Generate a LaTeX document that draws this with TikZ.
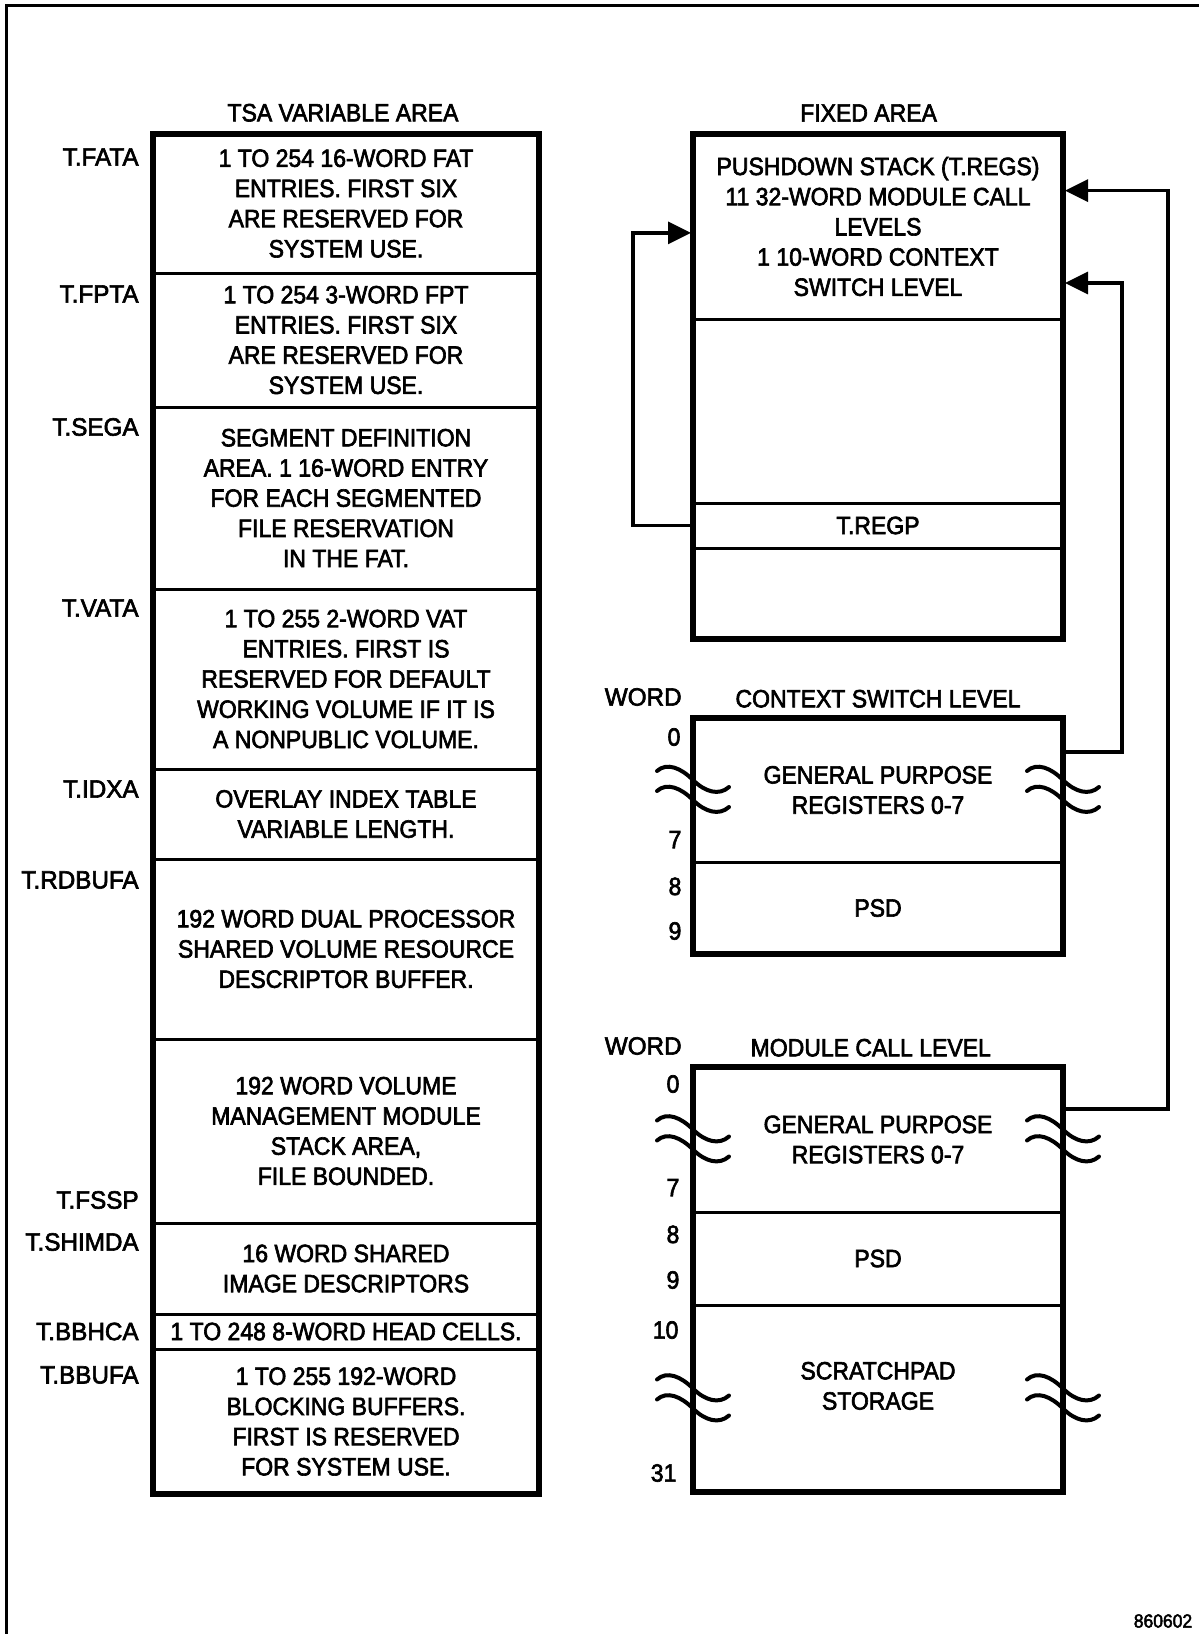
\documentclass[tikz,border=0pt]{standalone}
\usepackage{fontspec}
\newfontfamily\diagfont[FakeStretch=0.92,FakeBold=2.5]{Liberation Sans}
\newfontfamily\tagfont[FakeStretch=0.97,FakeBold=2.5]{Liberation Sans}
\usepackage{tikz}
\usetikzlibrary{arrows.meta,positioning}

\begin{document}
\begin{tikzpicture}[
    x=0.5pt,y=-0.5pt,
    every node/.style={font=\diagfont\fontsize{12.5pt}{15.1pt}\selectfont},
    sect/.style={draw,line width=1.5pt,outer sep=0pt,inner sep=0pt,
      align=center,minimum width=193pt},
    slot/.style={draw,line width=1.5pt,outer sep=0pt,inner sep=0pt,
      align=center,minimum width=185pt},
    rim/.style={line width=2.7pt},
    head/.style={inner sep=0pt},
    tag/.style={anchor=east,inner sep=0pt,font=\tagfont\fontsize{12.5pt}{15.1pt}\selectfont},
    num/.style={inner sep=0pt},
    arr/.style={-{Triangle[length=11.5pt,width=11pt]},line width=1.6pt,shorten >=1pt},
    wave/.style={line width=2pt,line cap=round},
    brk/.pic={
      \draw[wave] (-36,-19) .. controls (-26,-28) and (-12,-22) .. (0,-10)
        .. controls (12,2) and (26,6) .. (36,-3);
      \draw[wave] (-36,1) .. controls (-26,-8) and (-12,-2) .. (0,10)
        .. controls (12,22) and (26,26) .. (36,17);
    }
  ]
    \useasboundingbox (0,0) rectangle (1199,1634);
    \draw[line width=1.5pt] (6,1634) |- (1199,5);

    % TSA variable area
    \node[sect,minimum height=69.5pt,anchor=north] (fat) at (346,134)
      {1 TO 254 16-WORD FAT\\ENTRIES. FIRST SIX\\ARE RESERVED FOR\\SYSTEM USE.};
    \node[sect,minimum height=67pt,below=0pt of fat] (fpt)
      {1 TO 254 3-WORD FPT\\ENTRIES. FIRST SIX\\ARE RESERVED FOR\\SYSTEM USE.};
    \node[sect,minimum height=91pt,below=0pt of fpt] (sega)
      {SEGMENT DEFINITION\\AREA. 1 16-WORD ENTRY\\FOR EACH SEGMENTED\\FILE RESERVATION\\IN THE FAT.};
    \node[sect,minimum height=90pt,below=0pt of sega] (vata)
      {1 TO 255 2-WORD VAT\\ENTRIES. FIRST IS\\RESERVED FOR DEFAULT\\WORKING VOLUME IF IT IS\\A NONPUBLIC VOLUME.};
    \node[sect,minimum height=45pt,below=0pt of vata] (idxa)
      {OVERLAY INDEX TABLE\\VARIABLE LENGTH.};
    \node[sect,minimum height=90pt,below=0pt of idxa] (rdbuf)
      {192 WORD DUAL PROCESSOR\\SHARED VOLUME RESOURCE\\DESCRIPTOR BUFFER.};
    \node[sect,minimum height=92pt,below=0pt of rdbuf] (vmm)
      {192 WORD VOLUME\\MANAGEMENT MODULE\\STACK AREA,\\FILE BOUNDED.};
    \node[sect,minimum height=45.5pt,below=0pt of vmm] (shim)
      {16 WORD SHARED\\IMAGE DESCRIPTORS};
    \node[sect,minimum height=17.5pt,below=0pt of shim] (bbhc)
      {1 TO 248 8-WORD HEAD CELLS.};
    \node[sect,minimum height=72.5pt,below=0pt of bbhc] (bbuf)
      {1 TO 255 192-WORD\\BLOCKING BUFFERS.\\FIRST IS RESERVED\\FOR SYSTEM USE.};
    \draw[rim] (fat.north west) rectangle (bbuf.south east);
    \node[head,above=6pt of fat,xshift=-1.5pt] (tsa) {TSA VARIABLE AREA};

    \node[tag] (tfata) at ([shift={(-7pt,-11.5pt)}]fat.north west) {T.FATA};
    \node[tag] (tfpta) at ([shift={(-7pt,-10.5pt)}]fpt.north west) {T.FPTA};
    \node[tag] (tsega) at ([shift={(-7pt,-10pt)}]sega.north west) {T.SEGA};
    \node[tag] (tvata) at ([shift={(-7pt,-9.5pt)}]vata.north west) {T.VATA};
    \node[tag] (tidxa) at ([shift={(-7pt,-10pt)}]idxa.north west) {T.IDXA};
    \node[tag] (trdbufa) at ([shift={(-7pt,-10.5pt)}]rdbuf.north west) {T.RDBUFA};
    \node[tag] (tfssp) at ([shift={(-7pt,11.5pt)}]vmm.south west) {T.FSSP};
    \node[tag] (tshimda) at ([shift={(-7pt,-9.5pt)}]shim.north west) {T.SHIMDA};
    \node[tag] (tbbhca) at ([xshift=-7pt]bbhc.west) {T.BBHCA};
    \node[tag] (tbbufa) at ([shift={(-7pt,-13pt)}]bbuf.north west) {T.BBUFA};

    % fixed area
    \node[slot,minimum height=92.5pt,anchor=north] (stack) at (878,134)
      {PUSHDOWN STACK (T.REGS)\\11 32-WORD MODULE CALL\\LEVELS\\1 10-WORD CONTEXT\\SWITCH LEVEL};
    \node[slot,minimum height=92pt,below=0pt of stack] (gapa) {};
    \node[slot,minimum height=22.5pt,below=0pt of gapa] (regp) {T.REGP};
    \node[slot,minimum height=45.5pt,below=0pt of regp] (gapb) {};
    \draw[rim] (stack.north west) rectangle (gapb.south east);
    \node[head,above=6pt of stack,xshift=-4.7pt] (fixed) {FIXED AREA};

    % context switch level
    \node[slot,minimum height=72pt,anchor=north] (cgpr) at (878,718)
      {GENERAL PURPOSE\\REGISTERS 0-7};
    \node[slot,minimum height=46pt,below=0pt of cgpr] (cpsd) {PSD};
    \draw[rim] (cgpr.north west) rectangle (cpsd.south east);
    \node[head,above=5pt of cgpr] (ctitle) {CONTEXT SWITCH LEVEL};
    \node[tag] (cword) at ([shift={(-5.5pt,10.5pt)}]cgpr.north west) {WORD};
    \node[num] (c0) at ([shift={(-9.5pt,-9.5pt)}]cgpr.north west) {0};
    \node[num] (c7) at ([shift={(-9pt,11.2pt)}]cgpr.south west) {7};
    \node[num] (c8) at ([shift={(-9pt,-12.2pt)}]cpsd.north west) {8};
    \node[num] (c9) at ([shift={(-9pt,11.5pt)}]cpsd.south west) {9};

    % module call level
    \node[slot,minimum height=72.5pt,anchor=north] (mgpr) at (878,1067)
      {GENERAL PURPOSE\\REGISTERS 0-7};
    \node[slot,minimum height=46.5pt,below=0pt of mgpr] (mpsd) {PSD};
    \node[slot,minimum height=93.5pt,below=0pt of mpsd] (mscr) {};
    \node[align=center,inner sep=0pt] (scr) at ([yshift=6.3pt]mscr.center)
      {SCRATCHPAD\\STORAGE};
    \draw[rim] (mgpr.north west) rectangle (mscr.south east);
    \node[head,above=5pt of mgpr,xshift=-3.6pt] (mtitle) {MODULE CALL LEVEL};
    \node[tag] (mword) at ([shift={(-5.5pt,10.5pt)}]mgpr.north west) {WORD};
    \node[num] (m0) at ([shift={(-10pt,-8.5pt)}]mgpr.north west) {0};
    \node[num] (m7) at ([shift={(-10pt,12.2pt)}]mgpr.south west) {7};
    \node[num] (m8) at ([shift={(-10pt,-11.2pt)}]mpsd.north west) {8};
    \node[num] (m9) at ([shift={(-10pt,12.5pt)}]mpsd.south west) {9};
    \node[num] (m10) at ([shift={(-13.7pt,-12.5pt)}]mscr.north west) {10};
    \node[num] (m31) at ([shift={(-14.7pt,9.5pt)}]mscr.south west) {31};

    \pic at (cgpr.west) {brk};
    \pic at (cgpr.east) {brk};
    \pic at (mgpr.west) {brk};
    \pic at (mgpr.east) {brk};
    \pic at (mscr.west) {brk};
    \pic at (mscr.east) {brk};

    \draw[arr] (regp.west) -- ++(-60,0) |- ([yshift=-3.2pt]stack.west);
    \draw[arr] ([yshift=-17pt]cgpr.north east) -- ++(59,0)
      |- ([yshift=-74.5pt]stack.north east);
    \draw[arr] ([yshift=-21pt]mgpr.north east) -- ++(105,0)
      |- ([yshift=-28.3pt]stack.north east);

    \node[font=\diagfont\fontsize{9.5pt}{11pt}\selectfont] (code) at (1163,1621) {860602};
  \end{tikzpicture}
\end{document}
